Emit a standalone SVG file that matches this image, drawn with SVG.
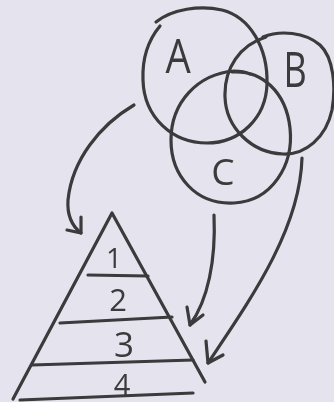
<svg xmlns="http://www.w3.org/2000/svg" width="334" height="402" viewBox="0 0 334 402">
<defs>
<style>
.s{fill:none;stroke:#3a3a3c;stroke-width:3.2;stroke-linecap:round;stroke-linejoin:round}
.t{font-family:"Open Sans","Liberation Sans",sans-serif;font-weight:400;fill:#3a3a3c;text-anchor:middle}
</style>
<filter id="soft" x="-5%" y="-5%" width="110%" height="110%"><feGaussianBlur stdDeviation="0.5"/></filter>
</defs>
<rect width="334" height="402" fill="#e5e4ee"/>
<g filter="url(#soft)">
<g id="circleA">
<path class="s" d="M156,22 C172,9 200,5 222,10 C250,17 268,48 267,84 C266,118 240,143 207,143 C172,143 144,117 143,80 C142,56 150,38 160,26"/>
<text class="t" transform="translate(178,73) scale(0.85,1)" font-size="47">A</text>
</g>
<g id="circleB">
<path class="s" d="M263,37 C280,30 305,32 320,45 C334,58 336,88 332,110 C326,138 305,155 283,154 C252,153 226,128 225,97 C224,68 240,45 266,37"/>
<text class="t" transform="translate(295,87) scale(0.72,1)" font-size="50">B</text>
</g>
<g id="circleC">
<path class="s" d="M232,72 C262,70 286,92 290,128 C294,165 272,201 234,203 C196,205 171,176 171,140 C171,102 198,74 234,71 C240,71 246,72 250,74"/>
<text class="t" x="223" y="185" font-size="37">C</text>
</g>
<g id="pyramid">
<path class="s" d="M13,399 L112,213 L205,382"/>
<path class="s" d="M88,275 L148,276"/>
<path class="s" d="M60,323 L172,317"/>
<path class="s" d="M32,365 L193,360"/>
<path class="s" d="M20,400 L193,393"/>
<text class="t" x="114" y="268" font-size="28">1</text>
<text class="t" x="118" y="311" font-size="31">2</text>
<text class="t" x="124" y="357" font-size="35">3</text>
<text class="t" x="122" y="395" font-size="29">4</text>
</g>
<g id="connectors">
<path class="s" d="M134,105 C100,125 72,160 68,200 C67,215 72,226 81,233"/>
<path class="s" d="M67,230 L81,233 L81,217"/>
<path class="s" d="M214,215 C216,260 208,300 190,325"/>
<path class="s" d="M187,307 L190,325 L203,315"/>
<path class="s" d="M302,158 C300,230 250,300 208,363"/>
<path class="s" d="M206,341 L208,363 L223,355"/>
</g>
</g>
</svg>
